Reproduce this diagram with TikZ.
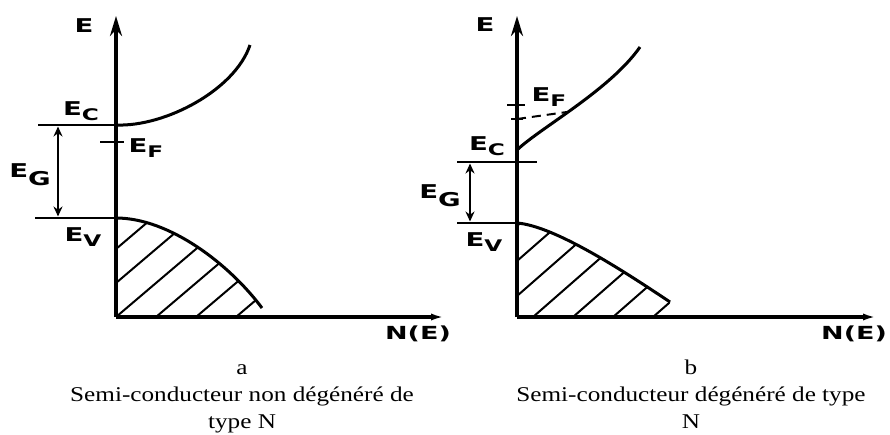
\documentclass[tikz,border=0pt]{standalone}
\usepackage{fontspec}
\usepackage{graphicx}
\setmainfont{Liberation Serif}
\newfontfamily\labfont{DejaVu Sans}
\usetikzlibrary{arrows.meta}
\newcommand\widelab[1]{\scalebox{1.45}[1]{#1}}
\newcommand\Elab[1]{\widelab{E\raisebox{-5pt}{\fontsize{16}{16}\selectfont #1}}}
\newcommand\widecap[1]{\scalebox{1.2}[1]{#1}}
\tikzset{
 vaxis/.style={line width=3.3pt, -{Stealth[length=20pt,width=12pt]}},
 haxis/.style={line width=3.3pt, -{Latex[length=14pt,width=7pt]}},
 level/.style={line width=2.8pt},
 band/.style={line width=3pt},
 hatch/.style={line width=2pt},
 tickline/.style={line width=1.6pt},
 gaparrow/.style={line width=2.5pt, {Stealth[length=10pt,width=9pt]}-{Stealth[length=10pt,width=9pt]}},
 lab/.style={inner sep=0pt, font=\labfont\bfseries\fontsize{19}{19}\selectfont},
 captext/.style={inner sep=0pt, anchor=base, font=\fontsize{21}{21}\selectfont},
}
\begin{document}
\begin{tikzpicture}[x=1pt,y=-1pt]
\useasboundingbox[fill=white] (0,0) rectangle (890,434);
% ---------- panel a ----------
\coordinate (Oa) at (116,317);
\coordinate (Ta) at (116,16);
\coordinate (Ra) at (445,317);
\coordinate (ECa) at (116,125);
\coordinate (EVa) at (116,218);
\coordinate (ECla) at (38,125);
\coordinate (EVla) at (35,218);
\coordinate (CBa) at (250,45);
\coordinate (VBa) at (262,308);
\begin{scope}
\clip (EVa) .. controls (170,218) and (230,265) .. (VBa) -- (262,317) -- (Oa) -- cycle;
\foreach \k in {-3,...,4} \draw[hatch] ({116+40*\k},317) -- ++(200,-170);
\end{scope}
\draw[band] (EVa) .. controls (170,218) and (230,265) .. (VBa);
\draw[band] (ECa) .. controls (165,127) and (235,90) .. (CBa);
\draw[level] (ECla) -- (ECa);
\draw[level] (EVla) -- (EVa);
\draw[tickline] (100,142) -- (124,142);
\draw[gaparrow] (58,126.5) -- (58,216.5);
\draw[vaxis] (Oa) -- (Ta);
\draw[haxis] (Oa) -- (Ra);
\node[lab] (Ea) at (84,26) {\widelab{E}};
\node[lab] (ECa-l) at (81,111) {\Elab{C}};
\node[lab] (EFa-l) at (146,148) {\Elab{F}};
\node[lab] (EGa-l) at (30,175) {\widelab{E\raisebox{-8pt}{G}}};
\node[lab] (EVa-l) at (83,237) {\Elab{V}};
\node[lab] (Na) at (418,334) {\scalebox{1.5}[1]{\fontsize{18}{18}\selectfont N(E)}};
\node[captext] (a1) at (242,374) {\widecap{a}};
\node[captext] (a2) at (242,401) {\widecap{Semi-conducteur non dégénéré de}};
\node[captext] (a3) at (242,428) {\widecap{type N}};
% ---------- panel b ----------
\coordinate (Ob) at (517,317);
\coordinate (Tb) at (517,16);
\coordinate (Rb) at (877,317);
\coordinate (CBb0) at (517,150);
\coordinate (CBb) at (640,47);
\coordinate (EVb) at (517,223);
\coordinate (ECl0) at (457,162);
\coordinate (ECl1) at (537,162);
\coordinate (EVlb) at (457,223);
\coordinate (VBb) at (670,302);
\coordinate (EFd0) at (517,119);
\coordinate (EFd1) at (567,112);
\begin{scope}
\clip (EVb) .. controls (555,226) and (625,272) .. (VBb) -- (670,317) -- (Ob) -- cycle;
\foreach \k in {-3,...,5} \draw[hatch] ({533+40*\k},317) -- ++(200,-175);
\end{scope}
\draw[band] (EVb) .. controls (555,226) and (625,272) .. (VBb);
\draw[band] (CBb0) .. controls (540,128) and (610,90) .. (CBb);
\draw[level] (ECl0) -- (ECl1);
\draw[level] (EVlb) -- (EVb);
\draw[tickline] (507,105) -- (525,105);
\draw[tickline] (511,119) -- (523,119);
\draw[line width=2pt, dash pattern=on 9pt off 6pt] (EFd0) -- (EFd1);
\draw[gaparrow] (470,163.5) -- (470,221.5);
\draw[vaxis] (Ob) -- (Tb);
\draw[haxis] (Ob) -- (Rb);
\node[lab] (Eb) at (485,25) {\widelab{E}};
\node[lab] (EFb-l) at (549,97) {\Elab{F}};
\node[lab] (ECb-l) at (487,146) {\Elab{C}};
\node[lab] (EGb-l) at (440,196) {\widelab{E\raisebox{-8pt}{G}}};
\node[lab] (EVb-l) at (484,242) {\Elab{V}};
\node[lab] (Nb) at (854,334) {\scalebox{1.5}[1]{\fontsize{18}{18}\selectfont N(E)}};
\node[captext] (b1) at (691,374) {\widecap{b}};
\node[captext] (b2) at (691,401) {\widecap{Semi-conducteur dégénéré de type}};
\node[captext] (b3) at (691,428) {\widecap{N}};
\end{tikzpicture}
\end{document}
